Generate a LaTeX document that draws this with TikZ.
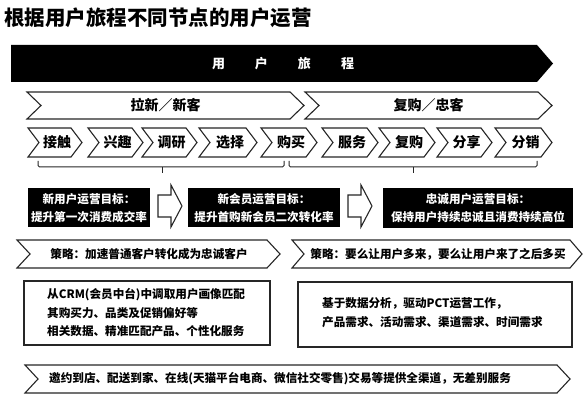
\documentclass[tikz,border=0pt]{standalone}
\usepackage{fontspec}
\setmainfont{Noto Sans CJK SC}
\newcommand{\chevpath}[6]{%
  \path[#6] (#1,#3) -- ({#2-#5},#3) -- (#2,{(#3+#4)/2}) -- ({#2-#5},#4) -- (#1,#4) -- ({#1+#5},{(#3+#4)/2}) -- cycle;}
\begin{document}
\begin{tikzpicture}[x=1pt,y=-1pt,
  chev/.style={draw=black!85,line width=1.1pt,fill=white,line join=miter},
  bigtxt/.style={font=\bfseries\fontsize{14}{16}\selectfont,inner sep=0pt},
  steptxt/.style={font=\bfseries\fontsize{14}{16}\selectfont,inner sep=0pt},
  goalbox/.style={fill=black},
  goaltxt/.style={white,font=\bfseries\fontsize{11.6}{18}\selectfont,align=center,inner sep=0pt},
  hollow/.style={draw=black!85,line width=1.1pt,fill=white,line join=miter},
  strtxt/.style={font=\bfseries\fontsize{11.6}{14}\selectfont,inner sep=0pt},
  infobox/.style={draw=black!85,line width=1.1pt},
  infotxt/.style={font=\bfseries\fontsize{11.6}{18.5}\selectfont,align=left,inner sep=0pt,anchor=west},
  bracket/.style={draw=black!85,line width=1pt,rounded corners=1.5pt}]
\useasboundingbox (0,0) rectangle (586,403);
% title
\node[anchor=west,font=\bfseries\fontsize{20.5}{22}\selectfont,inner sep=0pt] (title) at (4,17.5) {根据用户旅程不同节点的用户运营};
% black journey arrow
\fill (11,45) -- (537,45) -- (553,63.5) -- (537,82) -- (11,82) -- cycle;
\node[white,font=\bfseries\fontsize{13}{15}\selectfont,inner sep=0pt] (journey) at (283,63.5) {用\hspace{30pt}户\hspace{30pt}旅\hspace{30pt}程};
% stage chevrons
\chevpath{27}{304}{92}{119}{14}{chev}
\node[bigtxt] (stage1) at (165.5,105.5) {拉新／新客};
\chevpath{305}{552}{92}{119}{14}{chev}
\node[bigtxt] (stage2) at (428.5,105.5) {复购／忠客};
% step chevrons
\chevpath{28}{82}{128}{157}{11}{chev}
\node[steptxt] (s1) at (57,142.5) {接触};
\chevpath{88}{143}{128}{157}{11}{chev}
\node[steptxt] (s2) at (117.5,142.5) {兴趣};
\chevpath{142}{197}{128}{157}{11}{chev}
\node[steptxt] (s3) at (171.5,142.5) {调研};
\chevpath{199}{257}{128}{157}{11}{chev}
\node[steptxt] (s4) at (230,142.5) {选择};
\chevpath{261}{317}{128}{157}{11}{chev}
\node[steptxt] (s5) at (291,142.5) {购买};
\chevpath{322}{378}{128}{157}{11}{chev}
\node[steptxt] (s6) at (352,142.5) {服务};
\chevpath{379}{435}{128}{157}{11}{chev}
\node[steptxt] (s7) at (409,142.5) {复购};
\chevpath{437}{492}{128}{157}{11}{chev}
\node[steptxt] (s8) at (466.5,142.5) {分享};
\chevpath{495}{552}{128}{157}{11}{chev}
\node[steptxt] (s9) at (525.5,142.5) {分销};
% brackets
\draw[bracket] (38,161) -- (38,167) -- (284,167) -- (284,161);
\draw[bracket] (162,167) -- (162,173);
\draw[bracket] (289,161) -- (289,167) -- (537,167) -- (537,161);
\draw[bracket] (413,167) -- (413,173);
% goal boxes
\fill[goalbox] (28,188) rectangle (150,227);
\node[goaltxt] (g1) at (89,208) {新用户运营目标：\\提升第一次消费成交率};
\fill[goalbox] (188,188) rectangle (340,227);
\node[goaltxt] (g2) at (264,208) {新会员运营目标：\\提升首购新会员二次转化率};
\fill[goalbox] (383,188) rectangle (573,228);
\node[goaltxt] (g3) at (478,208.5) {忠诚用户运营目标：\\保持用户持续忠诚且消费持续高位};
% hollow arrows
\path[hollow] (158,195) -- (171,195) -- (171,185) -- (182,206) -- (171,227) -- (171,217) -- (158,217) -- cycle;
\path[hollow] (348,195) -- (361,195) -- (361,185) -- (372,206) -- (361,227) -- (361,217) -- (348,217) -- cycle;
% strategy chevrons
\chevpath{17}{280}{240}{268}{13}{chev}
\node[strtxt] (st1) at (149,254) {策略：加速普通客户转化成为忠诚客户};
\chevpath{292}{582}{240}{268}{12}{chev}
\node[strtxt] (st2) at (438,254) {策略：要么让用户多来，要么让用户来了之后多买};
% info boxes
\draw[infobox] (24,281) rectangle (270,345);
\node[infotxt] (i1) at (47,313) {从CRM(会员中台)中调取用户画像匹配\\其购买力、品类及促销偏好等\\相关数据、精准匹配产品、个性化服务};
\draw[infobox] (298,282) rectangle (572,347);
\node[infotxt] (i2) at (322,312.5) {基于数据分析，驱动PCT运营工作，\\产品需求、活动需求、渠道需求、时间需求};
% bottom chevron
\chevpath{25}{570}{365}{393}{13}{chev}
\node[strtxt,anchor=west] (ch) at (49,379) {邀约到店、配送到家、在线(天猫平台电商、微信社交零售)交易等提供全渠道，无差别服务};
\end{tikzpicture}
\end{document}
